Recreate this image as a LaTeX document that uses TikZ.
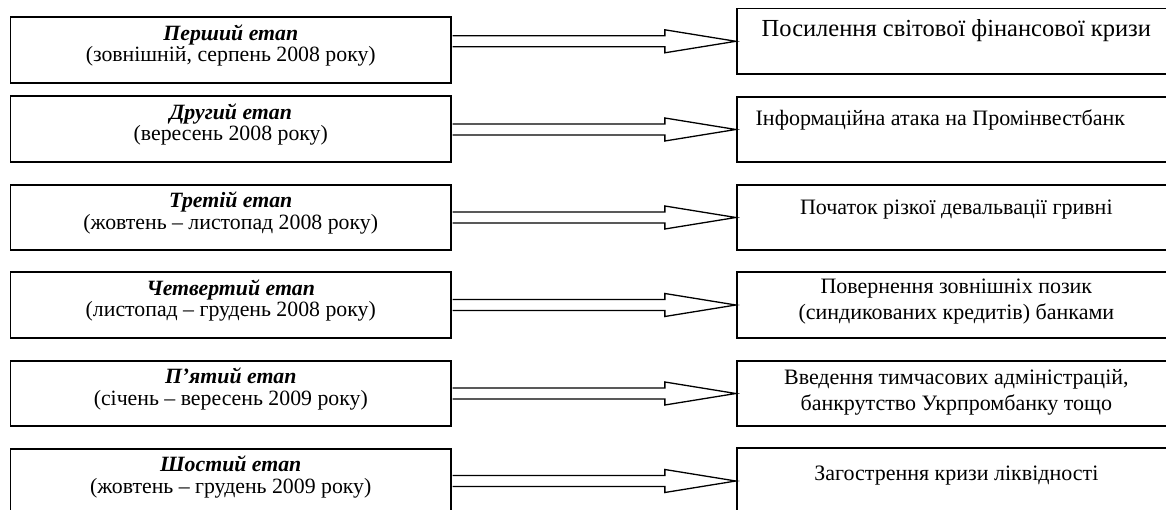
\documentclass[tikz,border=0pt]{standalone}
\usepackage{fontspec}
\setmainfont{Liberation Serif}
\usetikzlibrary{calc}
\begin{document}
\begin{tikzpicture}[x=1pt,y=-1pt,
  box/.style={draw,line width=1.7pt,rectangle,inner sep=0pt,minimum height=65.5pt},
  lbox/.style={box,minimum width=440.5pt},
  rbox/.style={box,minimum width=439.3pt},
  ttl/.style={anchor=base,inner sep=0pt,font=\fontsize{21.8}{24}\selectfont\bfseries\itshape},
  sub/.style={anchor=base,inner sep=0pt,font=\fontsize{21.8}{24}\selectfont},
  rtxt/.style={anchor=base,inner sep=0pt,font=\fontsize{22}{25}\selectfont},
  rbig/.style={anchor=base,inner sep=0pt,font=\fontsize{24.5}{27}\selectfont},
  arr/.style={draw,line width=1.3pt,line join=miter}]
\clip (0,0) rectangle (1166,510);
% left boxes
\node[lbox] (L1) at (230.75,50) {};
\node[lbox] (L2) at (230.75,129) {};
\node[lbox] (L3) at (230.75,217.5) {};
\node[lbox] (L4) at (230.75,305) {};
\node[lbox] (L5) at (230.75,393.5) {};
\node[lbox] (L6) at (230.75,481.5) {};
% right boxes
\node[rbox] (R1) at (956.35,41.3) {};
\node[rbox] (R2) at (956.35,129.5) {};
\node[rbox] (R3) at (956.35,217.5) {};
\node[rbox] (R4) at (956.35,305) {};
\node[rbox] (R5) at (956.35,393.5) {};
\node[rbox] (R6) at (956.35,481) {};
% left texts
\node[ttl] (L1a) at ($(L1.north)+(0,24)$) {Перший етап};
\node[sub] (L1b) at ($(L1.north)+(0,45.5)$) {(зовнішній, серпень 2008 року)};
\node[ttl] (L2a) at ($(L2.north)+(0,24)$) {Другий етап};
\node[sub] (L2b) at ($(L2.north)+(0,45.5)$) {(вересень 2008 року)};
\node[ttl] (L3a) at ($(L3.north)+(0,24)$) {Третій етап};
\node[sub] (L3b) at ($(L3.north)+(0,45.5)$) {(жовтень – листопад 2008 року)};
\node[ttl] (L4a) at ($(L4.north)+(0,24)$) {Четвертий етап};
\node[sub] (L4b) at ($(L4.north)+(0,45.5)$) {(листопад – грудень 2008 року)};
\node[ttl] (L5a) at ($(L5.north)+(0,24)$) {П’ятий етап};
\node[sub] (L5b) at ($(L5.north)+(0,45.5)$) {(січень – вересень 2009 року)};
\node[ttl] (L6a) at ($(L6.north)+(0,24)$) {Шостий етап};
\node[sub] (L6b) at ($(L6.north)+(0,45.5)$) {(жовтень – грудень 2009 року)};
% right texts
\node[rbig] (R1a) at ($(R1.north)+(0,28.5)$) {Посилення світової фінансової кризи};
\node[rtxt] (R2a) at ($(R2.north)+(-16,30)$) {Інформаційна атака на Промінвестбанк};
\node[rtxt] (R3a) at ($(R3.north)+(0,30.25)$) {Початок різкої девальвації гривні};
\node[rtxt] (R4a) at ($(R4.north)+(0,21.75)$) {Повернення зовнішніх позик};
\node[rtxt] (R4b) at ($(R4.north)+(0,47.75)$) {(синдикованих кредитів) банками};
\node[rtxt] (R5a) at ($(R5.north)+(0,24.25)$) {Введення тимчасових адміністрацій,};
\node[rtxt] (R5b) at ($(R5.north)+(0,50.25)$) {банкрутство Укрпромбанку тощо};
\node[rtxt] (R6a) at ($(R6.north)+(0,33.5)$) {Загострення кризи ліквідності};
% block arrows
\foreach \i in {1,...,6}{
  \coordinate (S\i) at (L\i.east |- R\i.west);
  \draw[arr] ($(S\i)+(0.85,-5.5)$) -- ($(R\i.west)+(-71,-5.5)$) -- ($(R\i.west)+(-71,-11.5)$)
    -- (R\i.west) -- ($(R\i.west)+(-71,11.5)$) -- ($(R\i.west)+(-71,5.5)$) -- ($(S\i)+(0.85,5.5)$);
}
\end{tikzpicture}
\end{document}
